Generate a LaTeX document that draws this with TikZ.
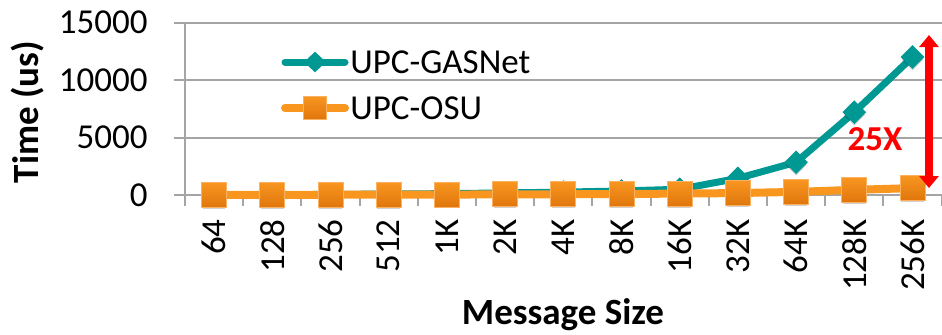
\documentclass[tikz,border=0pt]{standalone}
\usepackage{fontspec}
\setmainfont{Carlito}
\usetikzlibrary{arrows.meta,calc,shapes.geometric,shadows}
\definecolor{gasnet}{RGB}{0,152,147}
\definecolor{osu}{RGB}{248,150,32}
\definecolor{osudark}{RGB}{224,118,12}
\definecolor{osulight}{RGB}{252,178,96}
\definecolor{gridgray}{RGB}{165,165,165}
\tikzset{
    %Define grid and axis lines
    gridline/.style={
           draw=gridgray,
           line width=1pt},
    %Define style for tick labels
    ticklab/.style={
           inner sep=0pt,
           font=\fontsize{17.5}{20}\selectfont},
    %Define style for axis titles
    titlelab/.style={
           inner sep=0pt,
           font=\fontsize{18.5}{22}\selectfont\bfseries},
    %Define series lines
    gasline/.style={
           draw=gasnet,
           line width=3.5pt,
           line cap=round,
           line join=round},
    osuline/.style={
           draw=osu,
           line width=4pt,
           line cap=round,
           line join=round},
    %Define markers
    gasmark/.style={
           diamond,
           fill=gasnet,
           inner sep=0pt,
           minimum width=12pt,
           minimum height=12pt},
    osumark/.style={
           rectangle,
           top color=osu,
           bottom color=osudark,
           draw=osulight,
           line width=0.5pt,
           inner sep=0pt,
           minimum size=12.5pt},
    markshadow/.style={
           drop shadow={shadow xshift=0pt,
                        shadow yshift=-1.5pt,
                        shadow scale=0.9,
                        opacity=0.18,
                        fill=black}},
    % Define gap arrow style
    gaparrow/.style={
           {Triangle[width=9.5pt,length=6pt]}-{Triangle[width=9.5pt,length=6pt]},
           draw=red,
           line width=4pt},
    gaplab/.style={
           inner sep=0pt,
           text=red,
           font=\fontsize{17.5}{20}\selectfont\bfseries}
}
\begin{document}
\begin{tikzpicture}[x=0.5pt, y=0.5pt]
\useasboundingbox (0,0) rectangle (942,334);

% grid, axes and tick labels
\foreach \v/\lab [evaluate=\v as \yy using 139+11.5*\v] in {0/0,5/5000,10/10000,15/15000} {
  \draw[gridline] (174,\yy) -- (942,\yy);
  \node[ticklab, anchor=east] (ytick\v) at (148,\yy) {\lab};
}
\draw[gridline] (185,128) -- (185,311.5);
\foreach \k [evaluate=\k as \xx using 185+58.2*\k] in {1,...,13}
  \draw[gridline] (\xx,128) -- (\xx,139);
\foreach \lab [count=\i from 0, evaluate=\i as \xx using 214.1+58.2*\i] in {64,128,256,512,1K,2K,4K,8K,16K,32K,64K,128K,256K}
  \node[ticklab, rotate=90, anchor=east] (xtick\i) at (\xx,115) {\lab};

\node[titlelab, rotate=90] (ytitle) at (28,222) {Time (us)};
\node[titlelab, anchor=base] (xtitle) at (563,10) {Message Size};

% data points
\foreach \g [count=\i from 0, evaluate=\i as \xx using 214.1+58.2*\i, evaluate=\g as \yy using 139+11.5*\g]
  in {0.02,0.03,0.05,0.08,0.12,0.18,0.25,0.35,0.5,1.45,2.85,7.2,12.0}
  \coordinate (g\i) at (\xx,\yy);
\foreach \o [count=\i from 0, evaluate=\i as \xx using 214.1+58.2*\i, evaluate=\o as \yy using 139+11.5*\o]
  in {0.01,0.01,0.02,0.03,0.04,0.05,0.07,0.09,0.12,0.17,0.27,0.45,0.6}
  \coordinate (o\i) at (\xx,\yy);

% UPC-GASNet
\draw[gasline] (g0) \foreach \i in {1,...,12} {-- (g\i)};
\foreach \i in {0,...,12}
  \node[gasmark, markshadow] (gm\i) at (g\i) {};

% UPC-OSU
\draw[osuline] (o0) \foreach \i in {1,...,12} {-- (o\i)};
\foreach \i in {0,...,12}
  \node[osumark, markshadow] (om\i) at (o\i) {};

% legend
\coordinate (lgasa) at (285,272);
\coordinate (lgasb) at (345,272);
\draw[gasline] (lgasa) -- (lgasb);
\node[gasmark, minimum width=11pt, minimum height=10.5pt] (lgasm) at ($(lgasa)!0.5!(lgasb)$) {};
\node[ticklab, anchor=west] (lgastext) at (350,272) {UPC-GASNet};
\coordinate (losua) at (285,226);
\coordinate (losub) at (345,226);
\draw[osuline] (losua) -- (losub);
\node[osumark, minimum size=11.5pt] (losum) at ($(losua)!0.5!(losub)$) {};
\node[ticklab, anchor=west] (losutext) at (350,226) {UPC-OSU};

% gap between the two at 256K
\coordinate (gaptop) at (929,299);
\coordinate (gapbot) at (929,146);
\draw[gaparrow] (gapbot) -- (gaptop);
\node[gaplab] (gaptext) at (875,195) {25X};
\end{tikzpicture}
\end{document}
